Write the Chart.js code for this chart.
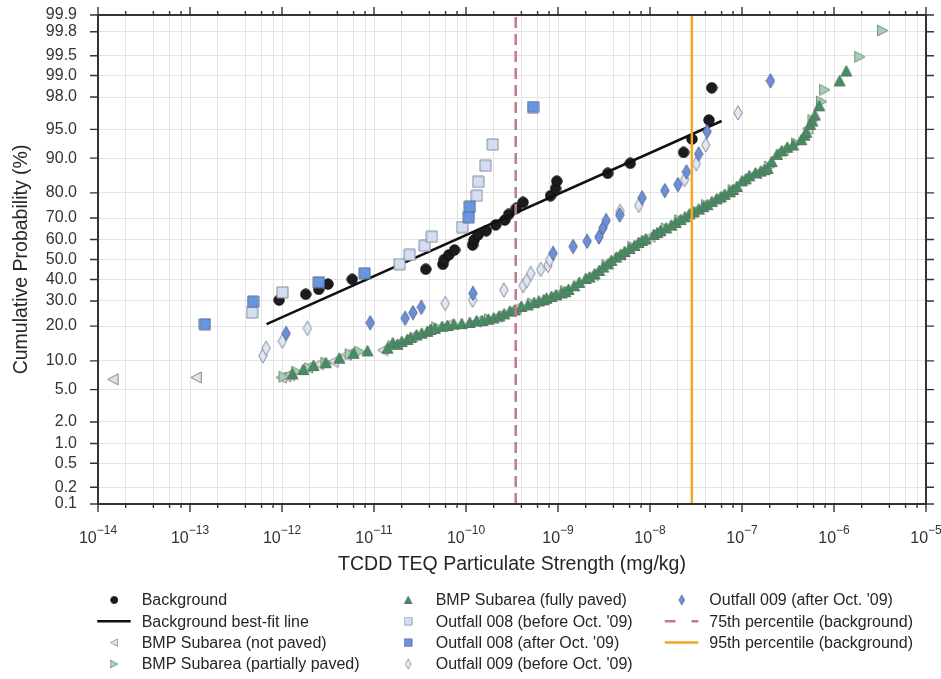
<!DOCTYPE html>
<html>
<head>
<meta charset="utf-8">
<script src="https://cdn.jsdelivr.net/npm/chart.js@4/dist/chart.umd.min.js"></script>
<style>
  html, body { margin: 0; padding: 0; background: #fff; }
</style>
</head>
<body>
<canvas id="myChart" width="941" height="679"></canvas>
<script>
const FONT = '"Liberation Sans", Arial, sans-serif';

// x: concentration (mg/kg), y: cumulative probability (%)
const background = [
  [9.3e-13, 30.4], [1.81e-12, 33.0], [2.51e-12, 35.3], [3.16e-12, 37.8], [5.8e-12, 40.1],
  [3.65e-11, 45.1], [5.6e-11, 47.6], [5.8e-11, 50.0], [6.5e-11, 52.3], [7.5e-11, 54.8],
  [1.18e-10, 57.3], [1.22e-10, 59.7], [1.35e-10, 62.2], [1.66e-10, 64.2], [2.1e-10, 66.9],
  [2.64e-10, 69.1], [2.91e-10, 71.6], [3.52e-10, 74.1], [4.17e-10, 76.5], [8.3e-10, 79.0],
  [9.4e-10, 81.5], [9.7e-10, 83.9], [3.47e-9, 86.2], [6.1e-9, 88.8], [2.32e-8, 91.2],
  [2.86e-8, 93.6], [4.37e-8, 96.1], [4.69e-8, 98.5]
];
const fitLineX = [6.8e-13, 6.0e-8];
const fitLineY = [20.7, 96.0];

const notPaved = [
  [1.46e-14, 6.5], [1.17e-13, 6.8], [9.8e-13, 6.8], [1.1e-12, 7.0], [1.21e-12, 7.2],
  [1.9e-12, 8.6], [2.5e-12, 9.3], [3.6e-12, 9.8], [5.0e-12, 11.4], [1.25e-11, 12.6],
  [2.6e-11, 16.5], [6.4e-11, 20.4], [1.3e-10, 21.6], [2.2e-10, 23.5], [3.5e-10, 26.9],
  [9.6e-10, 32.7], [2.4e-9, 42.2], [4.7e-9, 52.3], [1.0e-8, 61.3], [2.9e-8, 72.6],
  [5.7e-8, 78.5], [1.44e-7, 86.2], [2.8e-7, 91.7], [5.2e-7, 95.1]
];
const partiallyPaved = [
  [1.05e-12, 6.9], [1.44e-12, 7.8], [2.0e-12, 8.5], [3.0e-12, 9.6], [5.5e-12, 11.6],
  [7.0e-12, 12.2], [1.6e-11, 13.7], [4.8e-11, 19.6], [1.8e-10, 22.5], [5.3e-10, 29.0],
  [1.2e-9, 34.5], [3.4e-9, 47.2], [6.5e-9, 56.4], [1.5e-8, 65.3], [2.1e-8, 69.1],
  [4.1e-8, 75.5], [8.0e-8, 81.0], [2.0e-7, 88.0], [3.9e-7, 92.9], [5.9e-7, 96.1],
  [7.3e-7, 97.7], [7.9e-7, 98.4], [1.9e-6, 99.48], [3.36e-6, 99.81]
];
const fullyPaved = [
  [1.3e-12, 7.4], [1.7e-12, 8.2], [2.2e-12, 9.0], [3.0e-12, 9.6], [4.2e-12, 10.6],
  [6.0e-12, 11.8], [8.5e-12, 12.4], [1.4e-11, 13.1], [1.6e-11, 14.6], [1.8e-11, 14.2],
  [2.0e-11, 15.0], [2.3e-11, 15.6], [2.5e-11, 16.2], [2.9e-11, 17.0], [3.3e-11, 17.6],
  [3.8e-11, 18.2], [4.1e-11, 18.8], [4.6e-11, 19.2], [5.5e-11, 19.9], [6.3e-11, 20.2],
  [7.4e-11, 20.7], [9.0e-11, 20.9], [1.1e-10, 21.3], [1.3e-10, 21.9], [1.5e-10, 22.0],
  [1.75e-10, 22.5], [2.0e-10, 23.0], [2.3e-10, 23.8], [2.6e-10, 24.6], [3.0e-10, 25.7],
  [3.4e-10, 26.2], [4.0e-10, 27.6], [4.7e-10, 28.3], [5.5e-10, 29.3], [6.2e-10, 30.0],
  [7.0e-10, 30.5], [7.5e-10, 31.2], [8.5e-10, 32.0], [9.5e-10, 32.8], [1.1e-9, 33.6],
  [1.2e-9, 34.2], [1.3e-9, 35.2], [1.5e-9, 37.0], [1.7e-9, 38.6], [2.0e-9, 40.5],
  [2.2e-9, 41.2], [2.5e-9, 42.8], [2.8e-9, 44.5], [3.1e-9, 46.2], [3.5e-9, 47.8],
  [3.8e-9, 49.5], [4.3e-9, 51.2], [4.8e-9, 52.6], [5.3e-9, 54.0], [6.0e-9, 55.5],
  [6.8e-9, 57.0], [7.5e-9, 58.5], [8.2e-9, 59.5], [9.0e-9, 60.3], [1.1e-8, 62.4],
  [1.2e-8, 63.3], [1.3e-8, 64.2], [1.5e-8, 65.5], [1.7e-8, 66.8], [1.9e-8, 68.0],
  [2.15e-8, 69.3], [2.4e-8, 70.5], [2.7e-8, 71.8], [3.0e-8, 72.7], [3.4e-8, 73.8],
  [3.8e-8, 74.8], [4.2e-8, 75.6], [4.7e-8, 76.8], [5.3e-8, 77.8], [5.9e-8, 78.6],
  [6.5e-8, 79.5], [7.4e-8, 80.4], [8.0e-8, 81.2], [8.8e-8, 82.2], [1.0e-7, 84.0],
  [1.1e-7, 84.6], [1.2e-7, 85.5], [1.4e-7, 86.3], [1.6e-7, 86.8], [1.75e-7, 87.2],
  [1.9e-7, 87.5], [2.1e-7, 89.2], [2.4e-7, 90.8], [2.7e-7, 91.5], [3.1e-7, 92.2],
  [3.6e-7, 92.6], [4.4e-7, 93.5], [4.8e-7, 94.2], [5.0e-7, 94.6], [5.5e-7, 95.6],
  [5.8e-7, 96.0], [6.2e-7, 96.6], [6.9e-7, 97.4], [1.15e-6, 98.8], [1.36e-6, 99.14]
];
const outfall008Before = [
  [4.74e-13, 25.1], [1.01e-12, 33.9], [1.9e-11, 47.7], [2.44e-11, 52.3], [3.56e-11, 56.9],
  [4.27e-11, 61.3], [9.1e-11, 65.9], [1.31e-10, 79.0], [1.36e-10, 83.7], [1.63e-10, 88.2],
  [1.95e-10, 92.7]
];
const outfall008After = [
  [1.45e-13, 20.7], [4.84e-13, 29.7], [2.52e-12, 38.7], [7.9e-12, 43.1], [1.07e-10, 70.3],
  [1.1e-10, 74.8], [5.35e-10, 97.3]
];
const outfall009Before = [
  [6.21e-13, 11.2], [6.73e-13, 13.1], [1.01e-12, 15.1], [1.89e-12, 19.2], [5.94e-11, 28.9],
  [1.18e-10, 30.4], [2.58e-10, 35.0], [4.19e-10, 37.1], [4.57e-10, 39.5], [5.05e-10, 43.0],
  [6.49e-10, 45.0], [7.78e-10, 47.0], [8.13e-10, 49.8], [4.74e-9, 72.8], [7.53e-9, 75.3],
  [2.38e-8, 84.4], [3.19e-8, 88.7], [4.03e-8, 92.6], [9.06e-8, 96.8]
];
const outfall009After = [
  [1.11e-12, 17.5], [9.1e-12, 21.2], [2.18e-11, 22.9], [2.65e-11, 25.1], [3.27e-11, 27.3],
  [1.19e-10, 33.4], [8.84e-10, 53.1], [1.46e-9, 56.5], [2.07e-9, 59.1], [2.79e-9, 61.2],
  [3.08e-9, 65.5], [3.34e-9, 68.9], [4.69e-9, 71.3], [8.2e-9, 78.2], [1.45e-8, 80.8],
  [2.01e-8, 82.8], [2.49e-8, 86.6], [3.38e-8, 90.9], [4.17e-8, 94.7], [2.04e-7, 98.8]
];
const pct75 = 3.47e-10;
const pct95 = 2.85e-8;

const xDecades = [-14, -13, -12, -11, -10, -9, -8, -7, -6, -5];
const xMinorMultiples = [2, 4, 6, 8];
const yTickPct = [0.1, 0.2, 0.5, 1, 2, 5, 10, 20, 30, 40, 50, 60, 70, 80, 90, 95, 98, 99, 99.5, 99.8, 99.9];

// inverse normal CDF (Acklam), percent in -> z out
function probit(pct) {
  const p = pct / 100;
  const a = [-3.969683028665376e+01, 2.209460984245205e+02, -2.759285104469687e+02, 1.383577518672690e+02, -3.066479806614716e+01, 2.506628277459239e+00];
  const b = [-5.447609879822406e+01, 1.615858368580409e+02, -1.556989798598866e+02, 6.680131188771972e+01, -1.328068155288572e+01];
  const c = [-7.784894002430293e-03, -3.223964580411365e-01, -2.400758277161838e+00, -2.549732539343734e+00, 4.374664141464968e+00, 2.938163982698783e+00];
  const d = [7.784695709041462e-03, 3.224671290700398e-01, 2.445134137142996e+00, 3.754408661907416e+00];
  const pl = 0.02425;
  let q, r;
  if (p < pl) {
    q = Math.sqrt(-2 * Math.log(p));
    return (((((c[0]*q+c[1])*q+c[2])*q+c[3])*q+c[4])*q+c[5]) / ((((d[0]*q+d[1])*q+d[2])*q+d[3])*q+1);
  }
  if (p > 1 - pl) {
    q = Math.sqrt(-2 * Math.log(1 - p));
    return -(((((c[0]*q+c[1])*q+c[2])*q+c[3])*q+c[4])*q+c[5]) / ((((d[0]*q+d[1])*q+d[2])*q+d[3])*q+1);
  }
  q = p - 0.5; r = q * q;
  return (((((a[0]*r+a[1])*r+a[2])*r+a[3])*r+a[4])*r+a[5])*q / (((((b[0]*r+b[1])*r+b[2])*r+b[3])*r+b[4])*r+1);
}

const toXY = pts => pts.map(([x, p]) => ({ x: x, y: probit(p) }));
const vline = v => [{ x: v, y: probit(yTickPct[0]) }, { x: v, y: probit(yTickPct[yTickPct.length - 1]) }];

// marker sprites
function marker(w, h, shape, fill, stroke) {
  const c = document.createElement('canvas');
  c.width = w; c.height = h;
  const g = c.getContext('2d');
  g.beginPath();
  if (shape === 'circle') {
    g.arc(w / 2, h / 2, w / 2 - 0.8, 0, Math.PI * 2);
  } else {
    shape.forEach(([px, py], i) => (i ? g.lineTo(px, py) : g.moveTo(px, py)));
    g.closePath();
  }
  g.fillStyle = fill; g.fill();
  g.strokeStyle = stroke; g.lineWidth = 1; g.stroke();
  return c;
}
const SQ = [[1, 1], [12, 1], [12, 12], [1, 12]];
const DIA = [[5, 0.8], [9.2, 8], [5, 15.2], [0.8, 8]];
const TRI_UP = [[6.5, 1], [12, 11.5], [1, 11.5]];
const TRI_L = [[1, 6.5], [11.5, 1], [11.5, 12]];
const TRI_R = [[12, 6.5], [1.5, 1], [1.5, 12]];

const datasets = [
  { label: 'Background', data: toXY(background), pointStyle: marker(12, 12, 'circle', '#1c1c1c', '#111') },
  { label: 'Background best-fit line', data: fitLineX.map((x, i) => ({ x: x, y: probit(fitLineY[i]) })),
    showLine: true, borderColor: '#111', borderWidth: 2.5, pointRadius: 0, line: true },
  { label: 'BMP Subarea (not paved)', data: toXY(notPaved), pointStyle: marker(13, 13, TRI_L, '#e2e2e2', '#858585') },
  { label: 'BMP Subarea (partially paved)', data: toXY(partiallyPaved), pointStyle: marker(13, 13, TRI_R, '#a3cfb4', '#78907f') },
  { label: 'BMP Subarea (fully paved)', data: toXY(fullyPaved), pointStyle: marker(13, 13, TRI_UP, '#428f60', '#5a7564') },
  { label: 'Outfall 008 (before Oct. \'09)', data: toXY(outfall008Before), pointStyle: marker(13, 13, SQ, '#d3def5', '#868c98') },
  { label: 'Outfall 008 (after Oct. \'09)', data: toXY(outfall008After), pointStyle: marker(13, 13, SQ, '#6896e2', '#5b6e92') },
  { label: 'Outfall 009 (before Oct. \'09)', data: toXY(outfall009Before), pointStyle: marker(10, 16, DIA, '#dfe6f4', '#868c98') },
  { label: 'Outfall 009 (after Oct. \'09)', data: toXY(outfall009After), pointStyle: marker(10, 16, DIA, '#6b8fdc', '#5b6e92') },
  { label: '75th percentile (background)', data: vline(pct75), showLine: true, borderColor: '#c27a8b',
    borderWidth: 2.5, borderDash: [11, 6], pointRadius: 0, line: true },
  { label: '95th percentile (background)', data: vline(pct95), showLine: true, borderColor: '#f5a623',
    borderWidth: 2.5, pointRadius: 0, line: true }
];
datasets.forEach((ds, i) => {
  ds.order = datasets.length - i;
  if (!ds.line) { ds.pointRadius = 6; ds.showLine = false; }
});

const xTicks = [];
xDecades.forEach(e => {
  xTicks.push(Math.pow(10, e));
  if (e < xDecades[xDecades.length - 1]) xMinorMultiples.forEach(m => xTicks.push(m * Math.pow(10, e)));
});

const legendCols = [141.7, 435.7, 709.3];
const legendRows = [600, 621.3, 642.6, 664];

const frame = {
  id: 'frame',
  afterDraw(chart) {
    const { ctx, chartArea: a, scales: { x, y } } = chart;
    ctx.save();
    ctx.strokeStyle = '#333';
    ctx.lineWidth = 1.4;
    ctx.beginPath();
    x.ticks.forEach(t => {
      const px = x.getPixelForValue(t.value);
      const lg = Math.log10(t.value);
      const len = Math.abs(lg - Math.round(lg)) < 1e-6 ? 8 : 4;
      ctx.moveTo(px, a.bottom); ctx.lineTo(px, a.bottom + len);
      ctx.moveTo(px, a.top); ctx.lineTo(px, a.top - len);
    });
    y.ticks.forEach(t => {
      const py = y.getPixelForValue(t.value);
      ctx.moveTo(a.left, py); ctx.lineTo(a.left - 8, py);
      ctx.moveTo(a.right, py); ctx.lineTo(a.right + 8, py);
    });
    ctx.stroke();
    ctx.lineWidth = 2;
    ctx.strokeRect(a.left, a.top, a.right - a.left, a.bottom - a.top);

    // x tick labels 10^n
    ctx.fillStyle = '#333';
    ctx.textBaseline = 'alphabetic';
    ctx.textAlign = 'left';
    xDecades.forEach(e => {
      const px = x.getPixelForValue(Math.pow(10, e));
      ctx.font = '16px ' + FONT;
      const w1 = ctx.measureText('10').width;
      const exp = '\u2212' + Math.abs(e);
      ctx.font = '12px ' + FONT;
      const w2 = ctx.measureText(exp).width;
      const x0 = px - (w1 + w2) / 2;
      ctx.font = '16px ' + FONT;
      ctx.fillText('10', x0, a.bottom + 38.7);
      ctx.font = '12px ' + FONT;
      ctx.fillText(exp, x0 + w1, a.bottom + 29.5);
    });

    // legend, 3 columns x 4 rows
    ctx.font = '16px ' + FONT;
    ctx.textBaseline = 'middle';
    chart.data.datasets.forEach((ds, i) => {
      const tx = legendCols[Math.floor(i / 4)];
      const ty = legendRows[i % 4];
      const cx = tx - 27.5;
      if (ds.line) {
        ctx.strokeStyle = ds.borderColor;
        ctx.lineWidth = 2.5;
        ctx.setLineDash(ds.borderDash ? [10.7, 16] : []);
        ctx.beginPath();
        ctx.moveTo(cx - 17, ty); ctx.lineTo(cx + 16.5, ty);
        ctx.stroke();
        ctx.setLineDash([]);
      } else {
        const img = ds.pointStyle, s = 0.7;
        ctx.drawImage(img, cx - img.width * s / 2, ty - img.height * s / 2, img.width * s, img.height * s);
      }
      ctx.fillStyle = '#262626';
      ctx.fillText(ds.label, tx, ty + 1);
    });
    ctx.restore();
  }
};

new Chart(document.getElementById('myChart'), {
  type: 'scatter',
  data: { datasets: datasets },
  options: {
    responsive: false,
    animation: false,
    layout: { padding: { left: 10, right: 15, top: 15, bottom: 103 } },
    plugins: { legend: { display: false }, tooltip: { enabled: false } },
    scales: {
      x: {
        type: 'logarithmic',
        min: 1e-14,
        max: 1e-5,
        afterBuildTicks: s => { s.ticks = xTicks.map(v => ({ value: v })); },
        afterFit: s => { s.height = 72; s.paddingLeft = 0; s.paddingRight = 0; },
        ticks: { display: false },
        grid: { color: '#e3e3e3', lineWidth: 1, drawTicks: false },
        border: { display: false },
        title: {
          display: true, text: 'TCDD TEQ Particulate Strength (mg/kg)',
          font: { family: FONT, size: 19.5 }, color: '#262626', padding: 0
        }
      },
      y: {
        type: 'linear',
        min: probit(yTickPct[0]),
        max: probit(yTickPct[yTickPct.length - 1]),
        afterBuildTicks: s => { s.ticks = yTickPct.map(p => ({ value: probit(p) })); },
        afterFit: s => { s.width = 88; s.paddingTop = 0; s.paddingBottom = 0; },
        ticks: {
          autoSkip: false, padding: 21, color: '#333',
          font: { family: FONT, size: 16 },
          callback: (v, i) => yTickPct[i].toFixed(1)
        },
        grid: { color: '#e3e3e3', lineWidth: 1, drawTicks: false },
        border: { display: false },
        title: {
          display: true, text: 'Cumulative Probability (%)',
          font: { family: FONT, size: 19.5 }, color: '#262626', padding: 0
        }
      }
    }
  },
  plugins: [frame]
});
</script>
</body>
</html>
